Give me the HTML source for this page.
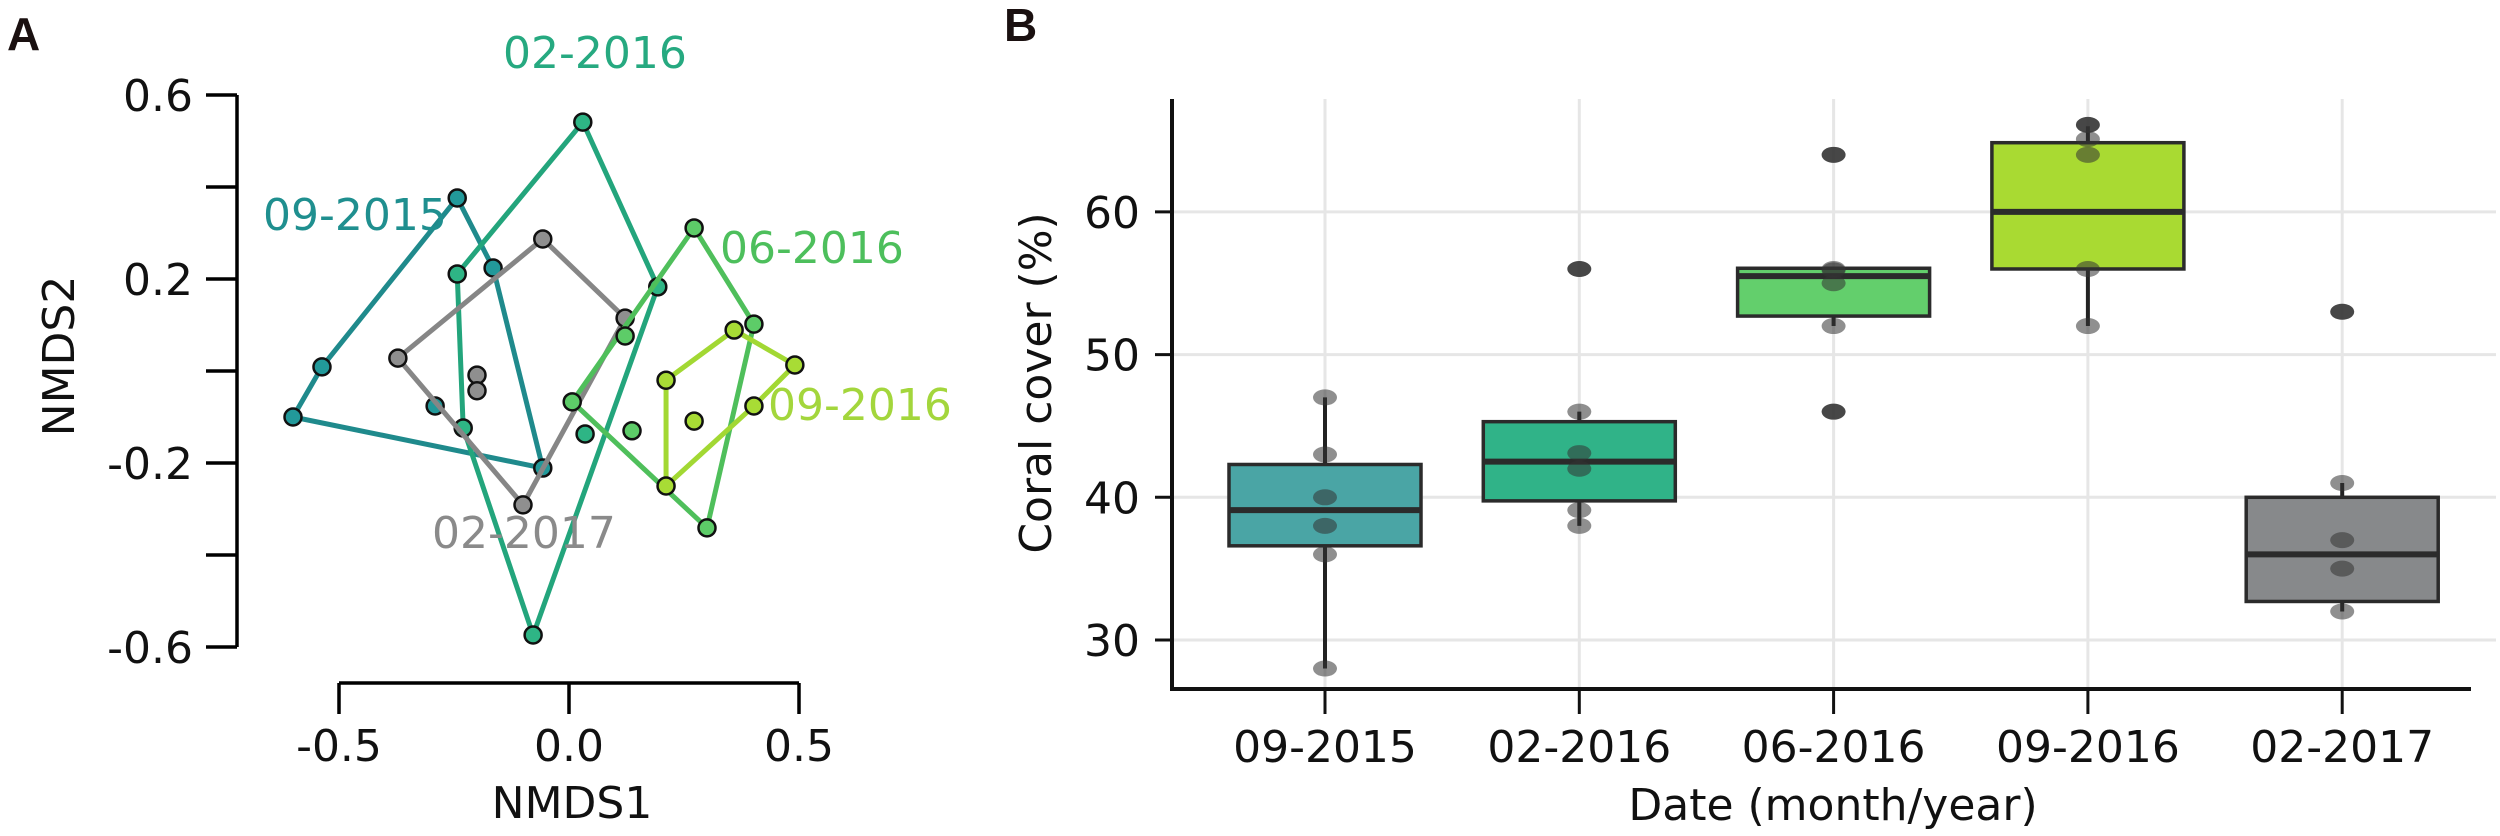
<!DOCTYPE html>
<html><head><meta charset="utf-8">
<style>
html,body{margin:0;padding:0;background:#fff;}
svg{display:block;font-family:"DejaVu Sans","Liberation Sans",sans-serif;}
</style></head>
<body>
<svg id="fig" width="2500" height="836" viewBox="0 0 2500 836" xmlns="http://www.w3.org/2000/svg">
<g id="panelA"></g>
<g id="panelB"></g>
</svg>
<script>
// ---------- Panel A data (NMDS ordination) ----------
const groupNames = ["09-2015","02-2016","02-2017","06-2016","09-2016"];
const nmds1_0915 = [-0.600,-0.537,-0.243,-0.165,-0.057,-0.291];
const nmds2_0915 = [-0.100, 0.009, 0.376, 0.224,-0.211,-0.076];
const hull_0915 = [0,1,2,3,4];
const nmds1_0216 = [0.030,-0.243,-0.230,-0.078,0.193,0.035];
const nmds2_0216 = [0.541, 0.211,-0.124,-0.574,0.183,-0.137];
const hull_0216 = [0,1,2,3,4];
const nmds1_0217 = [-0.372,-0.057,0.122,-0.100,-0.200,-0.200];
const nmds2_0217 = [ 0.028, 0.287,0.115,-0.291,-0.009,-0.043];
const hull_0217 = [0,1,2,3];
const nmds1_0616 = [0.272,0.402,0.300,0.007,0.122,0.137];
const nmds2_0616 = [0.311,0.102,-0.341,-0.067,0.076,-0.130];
const hull_0616 = [0,1,2,3];
const nmds1_0916 = [0.211,0.359,0.491,0.402,0.211,0.272];
const nmds2_0916 = [-0.020,0.089,0.013,-0.076,-0.250,-0.109];
const hull_0916 = [0,1,2,3,4];
const xTicksA = [-0.5,0.0,0.5];
const xTickLabelsA = ["-0.5","0.0","0.5"];
const yTicksA = [0.6,0.4,0.2,0.0,-0.2,-0.4,-0.6];
const yTickLabelsA = ["0.6","","0.2","","-0.2","","-0.6"];

// ---------- Panel B data (coral cover boxplots) ----------
const dates = ["09-2015","02-2016","06-2016","09-2016","02-2017"];
const q1 = [36.6,39.75,52.7,56.0,32.7];
const medians = [39.1,42.5,55.5,60.0,36.0];
const q3 = [42.3,45.3,56.05,64.85,40.0];
const whiskLo = [28,38,52,52,32];
const whiskHi = [47,46,56,66,41];
const pts_0915 = [47,43,40,38,36,28];
const pts_0216 = [56,46,43.1,42,39.1,38];
const pts_0616 = [64,56,55.9,55,52,46];
const pts_0916 = [66.1,65.1,64,56,52];
const pts_0217 = [53,41,37,35,32];
const yTicksB = [30,40,50,60];

const NS="http://www.w3.org/2000/svg";
function mk(parent,tag,attrs,text){
  const e=document.createElementNS(NS,tag);
  for(const k in attrs) e.setAttribute(k,attrs[k]);
  if(text!==undefined) e.textContent=text;
  parent.appendChild(e); return e;
}

// ===== Panel A =====
const A=document.getElementById('panelA');
const ax=v=>569+v*460;
const ay=v=>371-v*460;
let t;
t=mk(A,'text',{x:7,y:50,'font-size':46,'font-weight':'bold','font-family':'Liberation Sans, sans-serif',fill:'#1a1010'},'A');


let l=mk(A,'line',{x1:237,y1:ay(0.6),x2:237,y2:ay(-0.6),stroke:'#000','stroke-width':3.5});


yTicksA.forEach((v,i)=>{
  const tk=mk(A,'line',{x1:206,y1:ay(v),x2:237,y2:ay(v),stroke:'#000','stroke-width':3.5});
  
  
  if(yTickLabelsA[i]){
    const tl=mk(A,'text',{x:193,y:ay(v)+16,'text-anchor':'end','font-size':44,fill:'#111'},yTickLabelsA[i]);
    
    
  }
});
t=mk(A,'text',{x:0,y:0,'text-anchor':'middle','font-size':44,fill:'#111',transform:'translate(74,356) rotate(-90)'},'NMDS2');


l=mk(A,'line',{x1:ax(-0.5),y1:683,x2:ax(0.5),y2:683,stroke:'#000','stroke-width':3.5});


xTicksA.forEach((v,i)=>{
  const tk=mk(A,'line',{x1:ax(v),y1:683,x2:ax(v),y2:714,stroke:'#000','stroke-width':3.5});
  
  
  const tl=mk(A,'text',{x:ax(v),y:761,'text-anchor':'middle','font-size':44,fill:'#111'},xTickLabelsA[i]);
  
  
});
t=mk(A,'text',{x:572,y:818,'text-anchor':'middle','font-size':44,fill:'#111'},'NMDS1');



const groupsA=[
  {xs:nmds1_0915,ys:nmds2_0915,hull:hull_0915,line:'#1f8a8c',fill:'#22999a',lab:[263,230],lc:'#1f8f8f'},
  {xs:nmds1_0216,ys:nmds2_0216,hull:hull_0216,line:'#23a57c',fill:'#2eb585',lab:[503,68],lc:'#26a980'},
  {xs:nmds1_0217,ys:nmds2_0217,hull:hull_0217,line:'#868686',fill:'#8f8f8f',lab:[432,548],lc:'#8a8a8a'},
  {xs:nmds1_0616,ys:nmds2_0616,hull:hull_0616,line:'#4fbf5b',fill:'#5dcc68',lab:[720,263],lc:'#4dbf5c'},
  {xs:nmds1_0916,ys:nmds2_0916,hull:hull_0916,line:'#a2d833',fill:'#a8dc35',lab:[768,420],lc:'#a3d63c'}
];
groupsA.forEach((g,gi)=>{
  const gg=mk(A,'g',{});
  
  
  const pts=g.hull.map(i=>ax(g.xs[i])+','+ay(g.ys[i])).join(' ');
  const pg=mk(gg,'polygon',{points:pts,fill:'none',stroke:g.line,'stroke-width':5,'stroke-linejoin':'round'});
  
  
  g.xs.forEach((x,i)=>{
    const c=mk(gg,'circle',{cx:ax(x),cy:ay(g.ys[i]),r:8.5,fill:g.fill,stroke:'#111','stroke-width':2.5});
    
    
  });
  const lt=mk(gg,'text',{x:g.lab[0],y:g.lab[1],'font-size':44,fill:g.lc},groupNames[gi]);
  
  
});

// ===== Panel B =====
const B=document.getElementById('panelB');
const bx=i=>1325+i*254.3;
const by=v=>640-(v-30)*14.27;
t=mk(B,'text',{x:1004,y:41,'font-size':46,'font-weight':'bold','font-family':'Liberation Sans, sans-serif',fill:'#1a1010'},'B');


yTicksB.forEach(v=>{
  const gl=mk(B,'line',{x1:1174,y1:by(v),x2:2496,y2:by(v),stroke:'#e6e6e6','stroke-width':3});
  
  
});
dates.forEach((d,i)=>{
  const gl=mk(B,'line',{x1:bx(i),y1:99,x2:bx(i),y2:689,stroke:'#e6e6e6','stroke-width':3});
  
  
});
l=mk(B,'line',{x1:1172,y1:99,x2:1172,y2:690,stroke:'#111','stroke-width':4});


l=mk(B,'line',{x1:1170,y1:689,x2:2471,y2:689,stroke:'#111','stroke-width':4});


yTicksB.forEach(v=>{
  const tk=mk(B,'line',{x1:1155,y1:by(v),x2:1172,y2:by(v),stroke:'#111','stroke-width':3});
  
  
  const tl=mk(B,'text',{x:1140,y:by(v)+16,'text-anchor':'end','font-size':44,fill:'#111'},String(v));
  
  
});
t=mk(B,'text',{x:0,y:0,'text-anchor':'middle','font-size':44,fill:'#111',transform:'translate(1051,383) rotate(-90)'},'Coral cover (%)');


const fills=['#4aa5a5','#30b388','#63cf6c','#a9da32','#87898b'];
const allPts=[pts_0915,pts_0216,pts_0616,pts_0916,pts_0217];
dates.forEach((d,i)=>{
  const tk=mk(B,'line',{x1:bx(i),y1:689,x2:bx(i),y2:714,stroke:'#111','stroke-width':3});
  
  
  const tl=mk(B,'text',{x:bx(i),y:762,'text-anchor':'middle','font-size':44,fill:'#111'},d);
  
  
  const g=mk(B,'g',{});
  
  
  const wl=mk(g,'line',{x1:bx(i),y1:by(whiskHi[i]),x2:bx(i),y2:by(whiskLo[i]),stroke:'#222','stroke-width':4});
  
  
  const r=mk(g,'rect',{x:bx(i)-96,y:by(q3[i]),width:192,height:by(q1[i])-by(q3[i]),fill:fills[i],stroke:'#2b2b2b','stroke-width':3.5});
  
  
  const md=mk(g,'line',{x1:bx(i)-96,y1:by(medians[i]),x2:bx(i)+96,y2:by(medians[i]),stroke:'#2b2b2b','stroke-width':6});
  
  
  allPts[i].forEach(v=>{
    const out=(v>whiskHi[i]+0.01||v<whiskLo[i]-0.01);
    const e=mk(g,'ellipse',{cx:bx(i),cy:by(v),rx:12,ry:8,fill:'#333',opacity:out?0.9:0.55});
    
    
  });
});
t=mk(B,'text',{x:1833,y:820,'text-anchor':'middle','font-size':44,fill:'#111'},'Date (month/year)');


</script>
</body></html>
